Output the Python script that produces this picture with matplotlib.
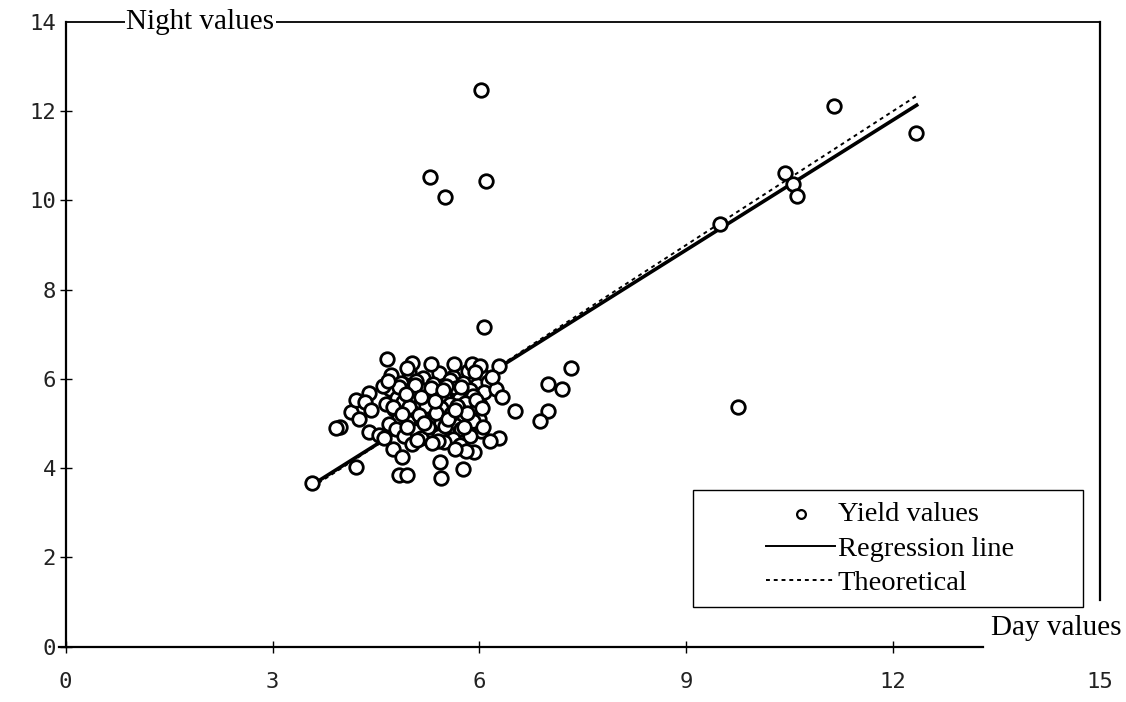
import matplotlib
matplotlib.use('Agg')
import matplotlib.pyplot as plt
from matplotlib.patches import Rectangle

# measured points (edges of the cloud and outliers)
day_edge = [3.57, 4.21, 3.98, 3.92, 4.14, 4.26, 4.21, 4.40, 4.34, 4.43, 4.40, 4.54, 4.66, 4.68, 4.62,
            5.02, 5.30, 5.63, 5.89, 4.95, 4.83, 4.95, 5.44, 5.43, 5.76, 4.75, 4.88, 5.92, 5.81, 5.65, 5.31,
            6.29, 7.33, 7.00, 7.20, 6.51, 6.99, 6.88, 6.29, 6.16, 6.05, 6.24, 6.18, 6.01, 6.04, 6.33, 5.93,
            6.06, 5.28, 5.50, 6.10, 6.03, 9.49, 10.43, 10.55, 10.61, 11.14, 12.33, 9.75]
night_edge = [3.66, 4.02, 4.93, 4.89, 5.26, 5.09, 5.53, 5.68, 5.47, 5.30, 4.80, 4.74, 6.44, 5.96, 4.67,
              6.36, 6.33, 6.33, 6.33, 6.24, 3.85, 3.85, 3.77, 4.14, 3.97, 4.42, 4.24, 4.37, 4.39, 4.42, 4.56,
              6.29, 6.24, 5.88, 5.77, 5.29, 5.28, 5.06, 4.67, 4.61, 4.93, 5.77, 6.05, 6.29, 5.34, 5.59, 6.16,
              7.17, 10.53, 10.08, 10.43, 12.47, 9.46, 10.62, 10.37, 10.10, 12.12, 11.51, 5.38]

# dense core of the cloud
day_core = [4.72, 4.98, 5.18, 5.42, 5.62, 5.83, 6.02,
            4.86, 5.08, 5.33, 5.57, 5.76, 5.97, 6.12,
            4.70, 4.93, 5.21, 5.39, 5.66, 5.87, 6.06,
            4.81, 5.04, 5.27, 5.48, 5.71, 5.91,
            4.64, 4.89, 5.14, 5.36, 5.58, 5.79, 6.01,
            4.76, 5.01, 5.24, 5.46, 5.69, 5.92,
            4.84, 5.11, 5.34, 5.56, 5.78, 5.99,
            4.69, 4.96, 5.19, 5.44, 5.64, 5.89,
            4.79, 5.06, 5.29, 5.53, 5.74, 6.02,
            4.91, 5.16, 5.41, 5.61, 5.86,
            5.02, 5.49, 5.72,
            4.60, 4.83, 5.07, 5.30, 5.52, 5.74, 5.95, 4.74, 4.98, 5.22, 5.45, 5.68,
            5.90, 4.88, 5.12, 5.37, 5.59, 5.82, 4.95, 5.25, 5.50, 5.78, 5.10, 5.40,
            5.15, 5.35, 5.55, 4.93, 5.65, 5.20, 5.47]
night_core = [6.08, 6.15, 6.02, 6.12, 6.05, 6.18, 6.10,
              5.90, 5.95, 5.88, 5.97, 5.91, 5.86, 5.94,
              5.78, 5.72, 5.76, 5.70, 5.79, 5.74, 5.71,
              5.58, 5.63, 5.57, 5.61, 5.55, 5.62,
              5.44, 5.48, 5.41, 5.47, 5.43, 5.46, 5.42,
              5.32, 5.27, 5.31, 5.29, 5.34, 5.26,
              5.13, 5.17, 5.12, 5.16, 5.14, 5.11,
              4.98, 5.03, 4.99, 5.02, 4.96, 5.01,
              4.87, 4.83, 4.86, 4.82, 4.88, 4.84,
              4.72, 4.68, 4.71, 4.66, 4.73,
              4.55, 4.58, 4.52,
              5.85, 5.82, 5.87, 5.80, 5.84, 5.81, 5.52, 5.38, 5.36, 5.40, 5.35, 5.39,
              5.05, 5.22, 5.20, 5.24, 5.21, 5.23, 4.92, 4.93, 4.95, 4.91, 4.62, 4.60,
              5.60, 5.50, 5.10, 5.65, 5.30, 5.00, 5.75]

reg_x = [3.57, 12.34]
reg_y = [3.62, 12.13]
theo_x = [3.57, 12.33]
theo_y = [3.57, 12.33]

xticks = [0, 3, 6, 9, 12, 15]
yticks = [0, 2, 4, 6, 8, 10, 12, 14]

serif = 'Liberation Serif'
mono = 'DejaVu Sans Mono'

fig = plt.figure(figsize=(11.26, 7.02), dpi=100)
ax = fig.add_axes([0.0583, 0.0788, 0.9187, 0.8903])
ax.set_xlim(0, 15)
ax.set_ylim(0, 14)

sc = ax.scatter(day_core + day_edge, night_core + night_edge, s=95, facecolors='white',
                edgecolors='black', linewidths=2.0, zorder=3, label='Yield values')
ax.plot(reg_x, reg_y, '-', color='black', lw=2.6, zorder=2, label='Regression line')
ax.plot(theo_x, theo_y, color='black', lw=1.4, linestyle=(0, (2, 2)), zorder=2,
        label='Theoretical')

# frame: partial spines like the scanned original
for s in ax.spines.values():
    s.set_linewidth(1.6)
ax.spines['bottom'].set_bounds(-0.1, 13.3)
ax.spines['right'].set_bounds(1.05, 14)
ax.spines['top'].set_linewidth(1.3)

ax.set_xticks(xticks)
ax.set_yticks(yticks)
ax.tick_params(axis='both', direction='inout', length=8, width=1.0, color='black')
ax.tick_params(axis='x', pad=14)
ax.tick_params(axis='y', pad=3)
ax.xaxis.get_major_ticks()[-1].tick1line.set_visible(False)
ax.yaxis.get_major_ticks()[-1].tick1line.set_visible(False)
for lab in ax.get_xticklabels() + ax.get_yticklabels():
    lab.set_fontfamily(mono)
    lab.set_fontsize(16)
    lab.set_color('#222222')

ax.text(1.95, 14, 'Night values', fontsize=21, family=serif, ha='center', va='center',
        bbox=dict(facecolor='white', edgecolor='none', pad=1), zorder=5, clip_on=False)
ax.text(14.36, 0.42, 'Day values', fontsize=21, family=serif, ha='center', va='center',
        clip_on=False)

ax.add_patch(Rectangle((0.6065, 0.0635), 0.377, 0.1872, transform=ax.transAxes,
                       facecolor='white', edgecolor='black', lw=1.0, zorder=4))
leg = ax.legend(loc='center', bbox_to_anchor=(0.797, 0.157), frameon=False,
                prop={'family': serif, 'size': 20.5}, handlelength=2.4, handletextpad=0.1,
                labelspacing=0.3, borderpad=0, scatterpoints=1)
leg.set_zorder(6)
leg.legend_handles[0].set_sizes([40])
leg.legend_handles[0].set_linewidth(1.6)
leg.legend_handles[1].set_linewidth(1.4)

fig.savefig('out.png', dpi=100, facecolor='white')
